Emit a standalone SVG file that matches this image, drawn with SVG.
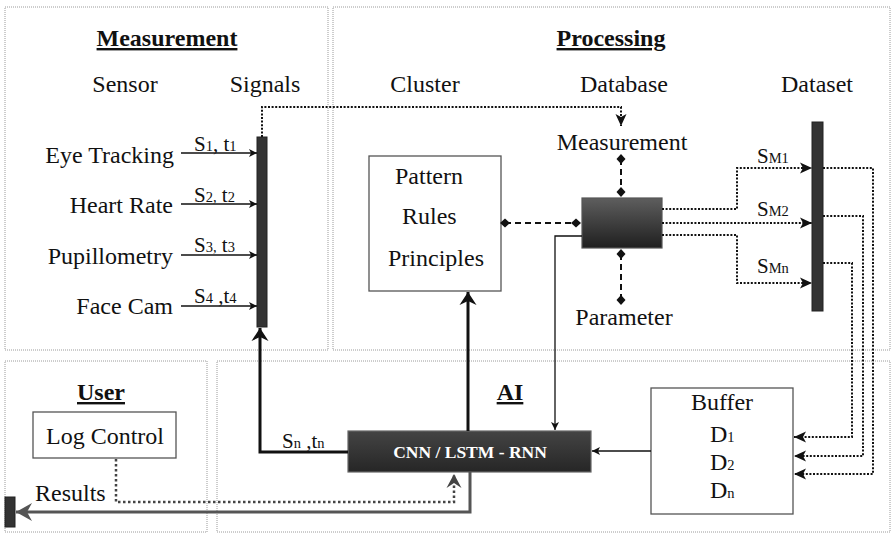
<svg xmlns="http://www.w3.org/2000/svg" width="892" height="533" viewBox="0 0 892 533" font-family="'Liberation Serif', 'Times New Roman', serif">
<style>
text{font-family:'Liberation Serif','Times New Roman',serif;fill:#111;}
.t{font-size:24px}
.title{font-size:24px;font-weight:bold;text-decoration:underline}
.lbl{font-size:21px}
.sub{font-size:14.5px}
.panel{fill:none;stroke:#9a9a9a;stroke-width:1;stroke-dasharray:1 1}
.box{fill:#fff;stroke:#555;stroke-width:1.3}
.bar{fill:#333;stroke:#222;stroke-width:1}
.dot{fill:none;stroke:#111;stroke-width:2;stroke-dasharray:2 1.6}
.dash{fill:none;stroke:#111;stroke-width:2;stroke-dasharray:6 4}
.thin{fill:none;stroke:#111;stroke-width:1.3}
.thick{fill:none;stroke:#111;stroke-width:3}
.gray{fill:none;stroke:#555;stroke-width:3}
.gdot{fill:none;stroke:#444;stroke-width:2.5;stroke-dasharray:2.5 2.5}
.cnn{font-size:17.5px;font-weight:bold;fill:#fff}
</style>
<defs>
<linearGradient id="gDb" x1="0" y1="0" x2="0" y2="1"><stop offset="0" stop-color="#5e5e5e"/><stop offset="1" stop-color="#1f1f1f"/></linearGradient>
<linearGradient id="gCnn" x1="0" y1="0" x2="0" y2="1"><stop offset="0" stop-color="#444"/><stop offset="1" stop-color="#262626"/></linearGradient>
<marker id="a" markerUnits="userSpaceOnUse" orient="auto" refX="0" refY="0" markerWidth="10" markerHeight="10" overflow="visible"><path d="M-8,-4 L0,0 L-8,4 L-6,0 z" fill="#111"/></marker>
<marker id="ab" markerUnits="userSpaceOnUse" orient="auto" refX="0" refY="0" markerWidth="10" markerHeight="10" overflow="visible"><path d="M-13,-8.5 L0,0 L-13,8.5 L-9,0 z" fill="#111"/></marker>
<marker id="ad" markerUnits="userSpaceOnUse" orient="auto" refX="0" refY="0" markerWidth="10" markerHeight="10" overflow="visible"><path d="M-12,-5.5 L0,0 L-12,5.5 L-9,0 z" fill="#111"/></marker>
<marker id="ag" markerUnits="userSpaceOnUse" orient="auto" refX="0" refY="0" markerWidth="10" markerHeight="10" overflow="visible"><path d="M-16,-9 L0,0 L-16,9 L-11,0 z" fill="#555"/></marker>
<marker id="agd" markerUnits="userSpaceOnUse" orient="auto" refX="0" refY="0" markerWidth="10" markerHeight="10" overflow="visible"><path d="M-14,-7.5 L0,0 L-14,7.5 L-9,0 z" fill="#444"/></marker>
<marker id="dm" markerUnits="userSpaceOnUse" orient="auto" refX="0" refY="0" markerWidth="10" markerHeight="10" overflow="visible"><path d="M-5,0 L0,-4.5 L5,0 L0,4.5 z" fill="#111"/></marker>
</defs>

<g id="panels">
<rect class="panel" x="5" y="7" width="323" height="343"/>
<rect class="panel" x="333" y="7" width="557" height="343"/>
<rect class="panel" x="5" y="361" width="202" height="171"/>
<rect class="panel" x="217" y="361" width="673" height="171"/>
<text class="title" x="167" y="46" text-anchor="middle">Measurement</text>
<text class="title" x="611" y="46" text-anchor="middle">Processing</text>
<text class="title" x="101" y="400" text-anchor="middle">User</text>
<text class="title" x="510" y="400" text-anchor="middle">AI</text>
<text class="t" x="125" y="92" text-anchor="middle">Sensor</text>
<text class="t" x="265" y="92" text-anchor="middle">Signals</text>
<text class="t" x="425" y="92" text-anchor="middle">Cluster</text>
<text class="t" x="624" y="92" text-anchor="middle">Database</text>
<text class="t" x="817" y="92" text-anchor="middle">Dataset</text>
</g>

<g id="sensors">
<text class="t" x="174" y="163" text-anchor="end">Eye Tracking</text>
<text class="t" x="173" y="213" text-anchor="end">Heart Rate</text>
<text class="t" x="173" y="264" text-anchor="end">Pupillometry</text>
<text class="t" x="173" y="314" text-anchor="end">Face Cam</text>
</g>

<g id="signals-bar">
<rect class="bar" x="257" y="137" width="10" height="190"/>
</g>

<g id="cluster">
<rect class="box" x="369" y="156" width="132" height="135"/>
<text class="t" x="395" y="184">Pattern</text>
<text class="t" x="402" y="224">Rules</text>
<text class="t" x="388" y="266">Principles</text>
</g>

<g id="database">
<rect x="582" y="198" width="80" height="50" fill="url(#gDb)" stroke="#555" stroke-width="1.2"/>
<text class="t" x="622" y="150" text-anchor="middle">Measurement</text>
<text class="t" x="624" y="325" text-anchor="middle">Parameter</text>
</g>

<g id="dataset-bar">
<rect class="bar" x="812" y="122" width="11" height="189"/>
</g>

<g id="buffer">
<rect class="box" x="651" y="388" width="142" height="126"/>
<text class="t" x="722" y="410" text-anchor="middle">Buffer</text>
<text class="t" x="710" y="442">D<tspan class="sub">1</tspan></text>
<text class="t" x="710" y="470">D<tspan class="sub">2</tspan></text>
<text class="t" x="710" y="498">D<tspan class="sub">n</tspan></text>
</g>

<g id="cnn">
<rect x="348" y="431" width="243" height="41" fill="url(#gCnn)" stroke="#666" stroke-width="1.2"/>
<text class="cnn" x="470" y="458" text-anchor="middle">CNN / LSTM - RNN</text>
</g>

<g id="log-control">
<rect class="box" x="33" y="412" width="143" height="46"/>
<text class="t" x="105" y="444" text-anchor="middle">Log Control</text>
</g>

<g id="results">
<rect class="bar" x="5" y="497" width="10" height="30"/>
<text class="t" x="35" y="501">Results</text>
</g>

<g id="connectors">
<path class="thin" d="M181,153 H257" marker-end="url(#a)"/>
<path class="thin" d="M181,204 H257" marker-end="url(#a)"/>
<path class="thin" d="M181,255 H257" marker-end="url(#a)"/>
<path class="thin" d="M181,306 H257" marker-end="url(#a)"/>
<text class="lbl" x="194" y="151">S<tspan class="sub">1</tspan>, t<tspan class="sub">1</tspan></text>
<text class="lbl" x="194" y="202">S<tspan class="sub">2,</tspan> t<tspan class="sub">2</tspan></text>
<text class="lbl" x="194" y="252">S<tspan class="sub">3,</tspan> t<tspan class="sub">3</tspan></text>
<text class="lbl" x="194" y="303">S<tspan class="sub">4</tspan> ,t<tspan class="sub">4</tspan></text>

<path class="dot" d="M262,137 V107 H621 V126" marker-end="url(#ad)"/>

<path class="dash" d="M621,159 V192" marker-start="url(#dm)" marker-end="url(#dm)"/>
<path class="dash" d="M505,223 H576" marker-start="url(#dm)" marker-end="url(#dm)"/>
<path class="dash" d="M621,254 V300" marker-start="url(#dm)" marker-end="url(#dm)"/>

<path class="dot" d="M662,209 H737 V168 H812" marker-end="url(#ad)"/>
<path class="dot" d="M662,223 H812" marker-end="url(#ad)"/>
<path class="dot" d="M662,235 H737 V283 H812" marker-end="url(#ad)"/>
<text class="lbl" x="757" y="163">S<tspan class="sub">M1</tspan></text>
<text class="lbl" x="757" y="216">S<tspan class="sub">M2</tspan></text>
<text class="lbl" x="757" y="273">S<tspan class="sub">Mn</tspan></text>

<path class="dot" d="M823,168 H873 V474 H794" marker-end="url(#ad)"/>
<path class="dot" d="M823,216 H863 V456 H794" marker-end="url(#ad)"/>
<path class="dot" d="M823,263 H852 V437 H794" marker-end="url(#ad)"/>

<path class="thin" d="M651,451 H592" marker-end="url(#a)"/>
<path class="thin" d="M582,236 H555 V430" marker-end="url(#a)"/>
<path class="thick" d="M468,431 V292" marker-end="url(#ab)"/>
<path class="thick" d="M348,452 H260 V328" marker-end="url(#ab)"/>
<text class="lbl" x="282" y="448">S<tspan class="sub">n</tspan> ,t<tspan class="sub">n</tspan></text>

<path class="gdot" d="M116,459 V502 H454 V474" marker-end="url(#agd)"/>
<path class="gray" d="M470,472 V512 H16" marker-end="url(#ag)"/>
</g>
</svg>
